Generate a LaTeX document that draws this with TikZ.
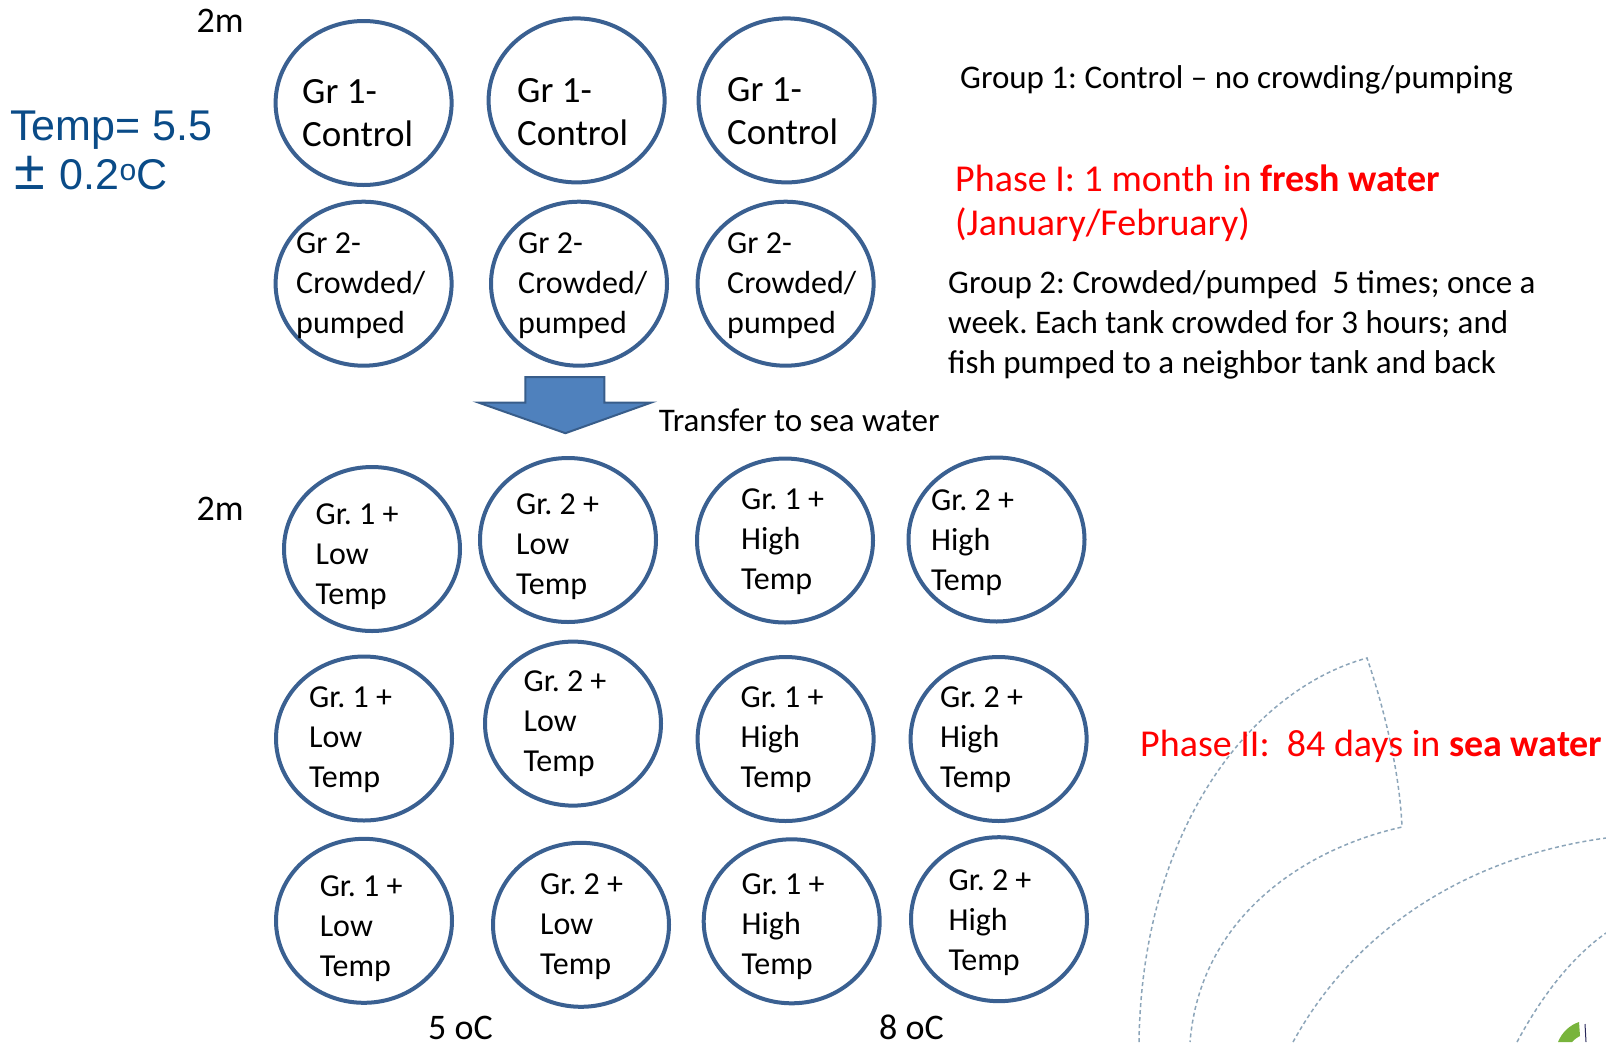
\documentclass[tikz,border=0pt]{standalone}
\usepackage{fontspec}
\usepackage{graphicx}
\setmainfont{Carlito}
\newfontfamily\arialfont{Liberation Sans}
\usetikzlibrary{shapes.geometric}
\frenchspacing
\definecolor{tankblue}{RGB}{58,96,145}
\definecolor{tempblue}{RGB}{10,75,135}
\definecolor{arrowfill}{RGB}{79,129,189}
\definecolor{arrowline}{RGB}{56,93,138}
\definecolor{decodash}{RGB}{140,165,185}
\definecolor{logogreen}{RGB}{120,180,60}
\definecolor{logonavy}{RGB}{40,40,90}
\begin{document}
\begin{tikzpicture}[x=1pt,y=-1pt,
  tank/.style={ellipse, draw=tankblue, line width=4pt, minimum width=176pt, minimum height=164pt, inner sep=0pt},
  biglbl/.style={anchor=west, align=left, inner sep=0pt, font=\fontsize{37}{43}\selectfont},
  lbl/.style={anchor=west, align=left, inner sep=0pt, font=\fontsize{32}{40}\selectfont},
  note/.style={anchor=west, align=left, inner sep=0pt, font=\fontsize{33}{40}\selectfont},
  phase/.style={anchor=west, align=left, inner sep=0pt, text=red, font=\fontsize{38}{44}\selectfont},
  decor/.style={draw=decodash, line width=1.5pt, dash pattern=on 4pt off 3pt}]
\useasboundingbox (0,0) rectangle (1606,1042);

% decorative dashed background shapes
\draw[decor] (1139,1042) .. controls (1142,830) and (1250,690) .. (1367,658)
  .. controls (1388,720) and (1400,780) .. (1402,827)
  .. controls (1300,850) and (1200,920) .. (1190,1042);
\draw[decor] (1293,1042) .. controls (1360,920) and (1480,855) .. (1606,838);
\draw[decor] (1517,1042) .. controls (1545,990) and (1575,955) .. (1606,933);
\fill[logogreen] (1558,1042) .. controls (1562,1032) and (1570,1025) .. (1579,1022) -- (1580,1036) .. controls (1576,1038) and (1574,1040) .. (1572,1042) -- cycle;
\draw[logonavy, line width=1pt] (1585,1024) -- (1586,1042);

% left texts
\node[inner sep=0pt, font=\fontsize{36}{40}\selectfont] (dim1) at (220,20.5) {2m};
\node[inner sep=0pt, font=\fontsize{36}{40}\selectfont] (dim2) at (220,509) {2m};
\node[anchor=west, align=left, inner sep=0pt, text=tempblue, font=\arialfont\fontsize{43}{49}\selectfont] (temp) at (10,150) {Temp= 5.5\\\hspace*{4pt}\scalebox{1.3}{±}\hspace*{15pt}0.2\textsuperscript{o}C};

% phase I tanks
\node[tank] (t11) at (363.6,103) {};
\node[tank] (t12) at (576.6,100.4) {};
\node[tank] (t13) at (786.6,100.4) {};
\node[tank] (t21) at (363.6,283.7) {};
\node[tank] (t22) at (579,283.7) {};
\node[tank] (t23) at (785.6,283.7) {};
\node[biglbl] (l11) at (302,113) {Gr 1-\\Control};
\node[biglbl] (l12) at (517,112) {Gr 1-\\Control};
\node[biglbl] (l13) at (727,111) {Gr 1-\\Control};
\node[lbl] (l21) at (296,286) {Gr 2-\\Crowded/\\pumped};
\node[lbl] (l22) at (518,286) {Gr 2-\\Crowded/\\pumped};
\node[lbl] (l23) at (727,286) {Gr 2-\\Crowded/\\pumped};

% right texts
\node[note] (g1) at (960,80) {Group 1: Control – no crowding/pumping};
\node[phase] (ph1) at (955,203) {Phase I: 1 month in \textbf{fresh water}\\(January/February)};
\node[note] (g2) at (948,325) {Group 2: Crowded/pumped\ \ 5 times; once a\\week. Each tank crowded for 3 hours; and\\fish pumped to a neighbor tank and back};

% transfer arrow
\fill[arrowfill, draw=arrowline, line width=2pt, line join=miter]
  (525.4,377) -- (604.3,377) -- (604.3,402.5) -- (651.4,402.5) -- (565.4,433.2)
  -- (478.3,402.5) -- (525.4,402.5) -- cycle;
\node[note, anchor=west, font=\fontsize{33}{40}\selectfont] (transfer) at (658.6,420) {Transfer to sea water};

% phase II tanks
\node[tank] (b11) at (372,549) {};
\node[tank] (b12) at (568,540) {};
\node[tank] (b13) at (785,540.5) {};
\node[tank] (b14) at (996.5,539.5) {};
\node[tank] (b21) at (364,738.5) {};
\node[tank] (b22) at (573,723.6) {};
\node[tank] (b23) at (785.6,739) {};
\node[tank] (b24) at (998.6,739) {};
\node[tank] (b31) at (364,920.8) {};
\node[tank] (b32) at (581,924.8) {};
\node[tank] (b33) at (791.7,921.3) {};
\node[tank] (b34) at (999,919.2) {};

\node[lbl] (m11) at (315.5,557) {Gr. 1 +\\Low\\Temp};
\node[lbl] (m12) at (516,547) {Gr. 2 +\\Low\\Temp};
\node[lbl] (m13) at (741,542) {Gr. 1 +\\High\\Temp};
\node[lbl] (m14) at (931,543) {Gr. 2 +\\High\\Temp};
\node[lbl] (m21) at (309,739.4) {Gr. 1 +\\Low\\Temp};
\node[lbl] (m22) at (523.4,724) {Gr. 2 +\\Low\\Temp};
\node[lbl] (m23) at (740.5,739.4) {Gr. 1 +\\High\\Temp};
\node[lbl] (m24) at (940,739.4) {Gr. 2 +\\High\\Temp};
\node[lbl] (m31) at (319.6,929) {Gr. 1 +\\Low\\Temp};
\node[lbl] (m32) at (540,927) {Gr. 2 +\\Low\\Temp};
\node[lbl] (m33) at (741.5,927) {Gr. 1 +\\High\\Temp};
\node[lbl] (m34) at (948.4,923) {Gr. 2 +\\High\\Temp};

\node[phase] (ph2) at (1140,746) {Phase II:\ \ 84 days in \textbf{sea water}};

\node[anchor=base west, inner sep=0pt, font=\fontsize{36}{40}\selectfont] (lowt) at (428,1039) {5 oC};
\node[anchor=base west, inner sep=0pt, font=\fontsize{36}{40}\selectfont] (hight) at (879,1039) {8 oC};
\end{tikzpicture}
\end{document}
